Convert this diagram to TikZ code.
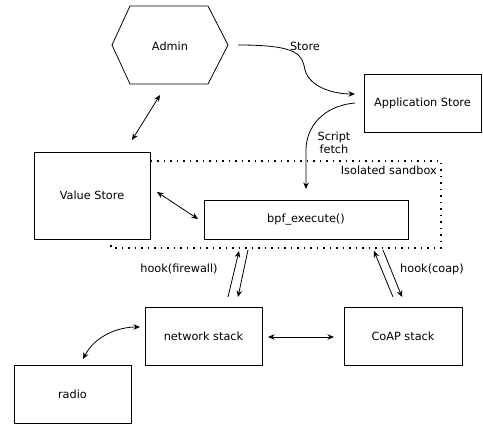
\documentclass[tikz,border=0pt]{standalone}
\usepackage{fontspec}
\setmainfont{DejaVu Sans}
\usetikzlibrary{arrows.meta}
\begin{document}
\begin{tikzpicture}[x=1pt,y=-1pt,
  font=\fontsize{11.3}{13}\selectfont,
  box/.style={draw,line width=0.8pt,fill=white,minimum width=#1,inner sep=0pt},
  lbl/.style={align=center,inner sep=0pt},
  conn/.style={line width=0.8pt,-{Stealth[length=6.5pt,width=5.5pt]}},
  biconn/.style={line width=0.8pt,{Stealth[length=6.5pt,width=5.5pt]}-{Stealth[length=6.5pt,width=5.5pt]}},
  sandbox/.style={line width=1.6pt,dash pattern=on 1.5pt off 5pt}]
\useasboundingbox (0,0) rectangle (483,428);
\node[fill=white,inner sep=0pt,minimum width=483pt,minimum height=428pt] (bg) at (241.5,214) {};
% sandbox
\draw[sandbox] (111,239) -- (111,248) -- (441,248) -- (441,161) -- (150,161);
\node[lbl,anchor=east] (sbl) at (437,170) {Isolated sandbox};
% hexagon admin
\draw[line width=0.8pt,fill=white] (112,45) -- (130,6) -- (208,6) -- (228,45) -- (208,84) -- (130,84) -- cycle;
\node[lbl] (admin) at (170,46) {Admin};
% boxes
\node[box=117pt,minimum height=58pt] (app) at (422.5,103) {Application Store};
\node[box=116pt,minimum height=87pt] (vs) at (92,195.5) {Value Store};
\node[box=204pt,minimum height=39pt] (bpf) at (306,219.5) {bpf\_execute()};
\node[box=117pt,minimum height=58pt] (net) at (203.5,336) {network stack};
\node[box=118pt,minimum height=58pt] (coap) at (403,336) {CoAP stack};
\node[box=117pt,minimum height=58pt] (radio) at (72.5,394) {radio};
% connector end points
\coordinate (a1) at (238,45);
\coordinate (a2) at (355,94);
\coordinate (b1) at (355,103);
\coordinate (b2) at (306,189);
\coordinate (c1) at (160,95);
\coordinate (c2) at (132,140);
\coordinate (d1) at (157,192);
\coordinate (d2) at (198,219);
\coordinate (f1) at (228,297);
\coordinate (f2) at (239,251);
\coordinate (f3) at (248,250);
\coordinate (f4) at (238,297);
\coordinate (g1) at (393,297);
\coordinate (g2) at (374,251);
\coordinate (g3) at (383,250);
\coordinate (g4) at (402,297);
\coordinate (n1) at (268,337);
\coordinate (n2) at (334,337);
\coordinate (r1) at (83,359);
\coordinate (r2) at (140,327);
% connectors
\draw[conn] (a1) .. controls (300,45) and (302,55) .. (305,70) .. controls (310,88) and (335,94) .. (a2);
\node[lbl] (storel) at (305,46) {Store};
\draw[conn] (b1) .. controls (322,106) and (306,128) .. (306,150) -- (b2);
\node[lbl,fill=white] (fetchl) at (334,143) {Script\\fetch};
\draw[biconn] (c1) -- (c2);
\draw[biconn] (d1) -- (d2);
\draw[conn] (f1) -- (f2);
\draw[conn] (f3) -- (f4);
\node[lbl] (fwl) at (179,269) {hook(firewall)};
\draw[conn] (g1) -- (g2);
\draw[conn] (g3) -- (g4);
\node[lbl] (coapl) at (432,269) {hook(coap)};
\draw[biconn] (n1) -- (n2);
\draw[biconn] (r1) .. controls (95,336) and (118,327) .. (r2);
\end{tikzpicture}
\end{document}
